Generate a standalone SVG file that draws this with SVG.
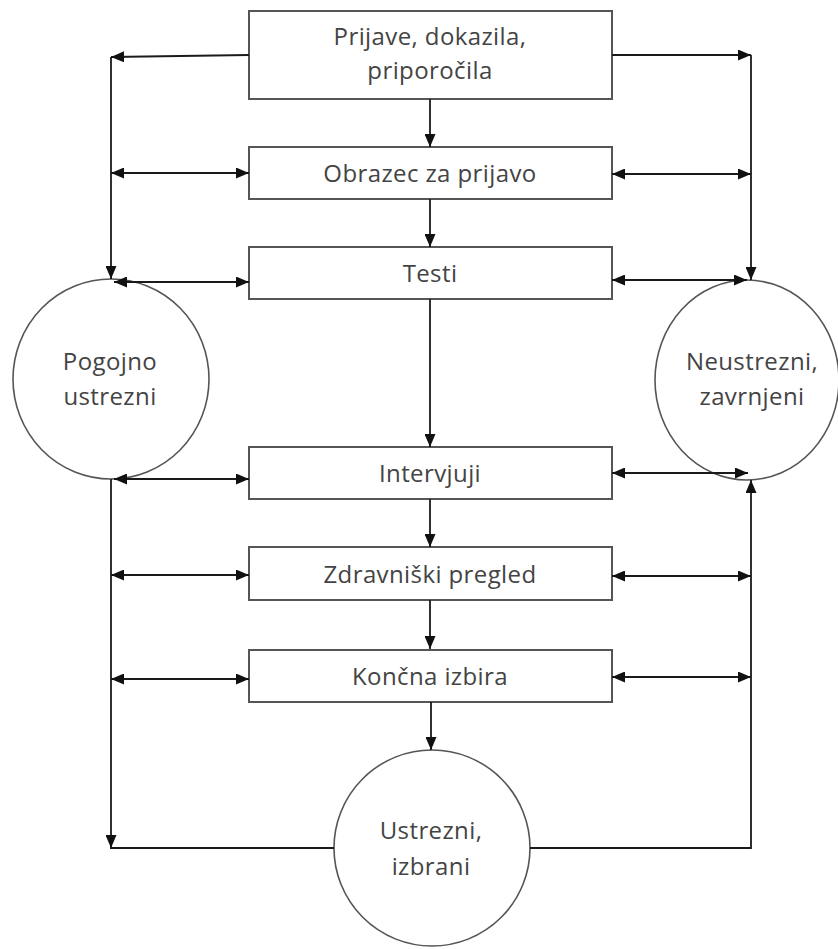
<svg xmlns="http://www.w3.org/2000/svg" width="838" height="949" viewBox="0 0 838 949">
<style>
  .box { fill: #ffffff; stroke: #555555; stroke-width: 2; }
  .node { fill: #ffffff; stroke: #555555; stroke-width: 1.6; }
  .lbl { font-family: "Open Sans", "Noto Sans", "DejaVu Sans", sans-serif; font-size: 24px; letter-spacing: 0.4px; fill: #444444; text-anchor: middle; }
  .conn line, .conn path { stroke: #1a1a1a; stroke-width: 1.8; fill: none; }
  .one { marker-end: url(#ah); }
  .two { marker-start: url(#ah); marker-end: url(#ah); }
</style>
<defs>
  <marker id="ah" markerUnits="userSpaceOnUse" markerWidth="13" markerHeight="11" viewBox="0 0 13 11" refX="13" refY="5.5" orient="auto-start-reverse">
    <path d="M0,0 L13,5.5 L0,11 z" fill="#111111"/>
  </marker>
</defs>
<rect width="838" height="949" fill="#ffffff"/>

<g id="n-prijave">
  <rect class="box" x="249" y="11" width="363" height="88"/>
  <text class="lbl" x="430" y="45">Prijave, dokazila,</text>
  <text class="lbl" x="430" y="79">priporočila</text>
</g>
<g id="n-obrazec">
  <rect class="box" x="249" y="147" width="363" height="52"/>
  <text class="lbl" x="430" y="182">Obrazec za prijavo</text>
</g>
<g id="n-testi">
  <rect class="box" x="249" y="247" width="363" height="52"/>
  <text class="lbl" x="430" y="282">Testi</text>
</g>
<g id="n-intervjuji">
  <rect class="box" x="249" y="447" width="363" height="52"/>
  <text class="lbl" x="430" y="482">Intervjuji</text>
</g>
<g id="n-zdravniski">
  <rect class="box" x="249" y="547" width="363" height="53"/>
  <text class="lbl" x="430" y="583">Zdravniški pregled</text>
</g>
<g id="n-koncna">
  <rect class="box" x="249" y="650" width="363" height="52"/>
  <text class="lbl" x="430" y="685">Končna izbira</text>
</g>
<g id="n-pogojno">
  <ellipse class="node" cx="111" cy="379" rx="98" ry="100"/>
  <text class="lbl" x="110" y="370">Pogojno</text>
  <text class="lbl" x="110" y="405">ustrezni</text>
</g>
<g id="n-neustrezni">
  <ellipse class="node" cx="747" cy="380" rx="92" ry="100"/>
  <text class="lbl" x="752" y="370">Neustrezni,</text>
  <text class="lbl" x="752" y="405">zavrnjeni</text>
</g>
<g id="n-ustrezni">
  <ellipse class="node" cx="432" cy="848" rx="98" ry="98"/>
  <text class="lbl" x="431" y="839">Ustrezni,</text>
  <text class="lbl" x="431" y="875">izbrani</text>
</g>

<g id="connectors" class="conn">
  <line class="one" x1="430" y1="99" x2="430" y2="147"/>
  <line class="one" x1="430" y1="199" x2="430" y2="247"/>
  <line class="one" x1="430" y1="299" x2="430" y2="447"/>
  <line class="one" x1="430" y1="499" x2="430" y2="547"/>
  <line class="one" x1="430" y1="600" x2="430" y2="649"/>
  <line class="one" x1="431" y1="702" x2="431" y2="750"/>

  <line class="one" x1="249" y1="55" x2="111" y2="57"/>
  <line class="one" x1="111" y1="57" x2="111" y2="279"/>
  <line class="one" x1="612" y1="55" x2="751" y2="55"/>
  <line class="one" x1="751" y1="55" x2="751" y2="280"/>

  <line class="two" x1="111" y1="173" x2="249" y2="173"/>
  <line class="two" x1="612" y1="174" x2="751" y2="174"/>
  <line class="two" x1="114" y1="282" x2="249" y2="282"/>
  <line class="two" x1="612" y1="280" x2="747" y2="280"/>
  <line class="two" x1="114" y1="479" x2="249" y2="479"/>
  <line class="two" x1="612" y1="473" x2="748" y2="473"/>
  <line class="two" x1="111" y1="575" x2="249" y2="575"/>
  <line class="two" x1="612" y1="576" x2="751" y2="576"/>
  <line class="two" x1="111" y1="679" x2="249" y2="679"/>
  <line class="two" x1="612" y1="677" x2="751" y2="677"/>

  <line class="one" x1="111" y1="479" x2="111" y2="848"/>
  <line x1="110" y1="848" x2="334" y2="848"/>
  <path class="one" d="M530,848 H751 V480"/>
</g>
</svg>
